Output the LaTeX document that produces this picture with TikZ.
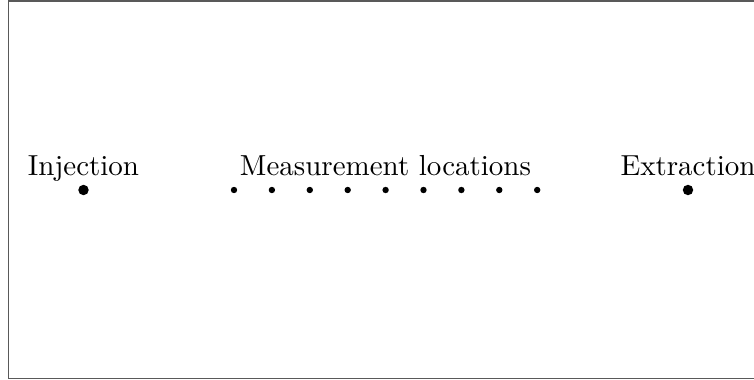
\documentclass[tikz,border=0pt]{standalone}
\begin{document}
\begin{tikzpicture}[x=0.345pt,y=-0.345pt,
  bigdot/.style={circle,fill=black,inner sep=0pt,minimum size=3.6pt},
  smalldot/.style={circle,fill=black,inner sep=0pt,minimum size=2.2pt},
  lbl/.style={anchor=base,inner sep=0pt}]
\useasboundingbox (0,0) rectangle (754,380);
\begin{scope}
\clip (0,0) rectangle (754,380);
\draw[black!65,line width=0.4pt] (8.5,1) rectangle (800,378.5);
\end{scope}
\node[bigdot] (inj) at (83.5,190) {};
\node[bigdot] (ext) at (688,190) {};
\foreach \i in {0,...,8} {
  \node[smalldot] (m\i) at ({234+\i*37.9},190) {};
}
\node[lbl] (tinj) at (83.5,175.5) {Injection};
\node[lbl] (tmeas) at (385.5,175.5) {Measurement locations};
\node[lbl] (text) at (688,175.5) {Extraction};
\end{tikzpicture}
\end{document}
